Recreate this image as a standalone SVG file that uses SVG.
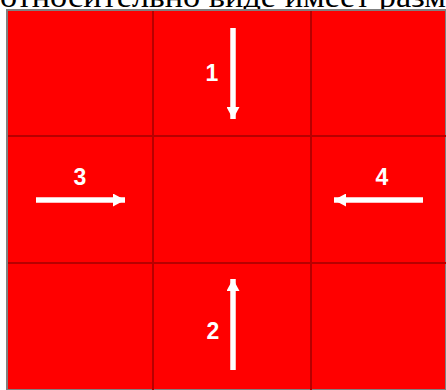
<svg xmlns="http://www.w3.org/2000/svg" width="446" height="390" viewBox="0 0 446 390">
<style>
.cell{fill:#ff0000}
.grid{stroke:#b80000;stroke-width:2;fill:none}
.arrow{stroke:#ffffff;stroke-width:5.5;fill:none}
.lbl{font-family:"Liberation Sans",Arial,sans-serif;font-weight:bold;font-size:23px;fill:#ffffff;text-anchor:middle}
.top{font-family:"Liberation Serif","Times New Roman",serif;font-size:32px;fill:#000000}
</style>
<defs>
<marker id="ah" viewBox="0 0 12 13" refX="12" refY="6.5" markerWidth="12" markerHeight="13" markerUnits="userSpaceOnUse" orient="auto">
<path d="M0,0 L12,6.5 L0,13 Z" fill="#ffffff"/>
</marker>
</defs>
<rect width="446" height="390" fill="#ffffff"/>
<text class="top" x="0" y="7" textLength="446" lengthAdjust="spacingAndGlyphs">относительно виде имеет разм</text>
<g id="board">
<rect class="cell" x="7" y="10" width="439" height="380" stroke="#808080" stroke-width="2"/>
</g>
<g id="gridlines">
<line class="grid" x1="153" y1="11" x2="153" y2="390"/>
<line class="grid" x1="311" y1="11" x2="311" y2="390"/>
<line class="grid" x1="8" y1="136" x2="446" y2="136"/>
<line class="grid" x1="8" y1="263" x2="446" y2="263"/>
</g>
<g id="connectors">
<line class="arrow" x1="233" y1="28" x2="233" y2="119" marker-end="url(#ah)"/>
<line class="arrow" x1="233" y1="370" x2="233" y2="279" marker-end="url(#ah)"/>
<line class="arrow" x1="36" y1="200" x2="125" y2="200" marker-end="url(#ah)"/>
<line class="arrow" x1="423" y1="200" x2="334" y2="200" marker-end="url(#ah)"/>
</g>
<g id="label1"><text class="lbl" x="212" y="81">1</text></g>
<g id="label2"><text class="lbl" x="213" y="339">2</text></g>
<g id="label3"><text class="lbl" x="80" y="185">3</text></g>
<g id="label4"><text class="lbl" x="382" y="185">4</text></g>
</svg>
